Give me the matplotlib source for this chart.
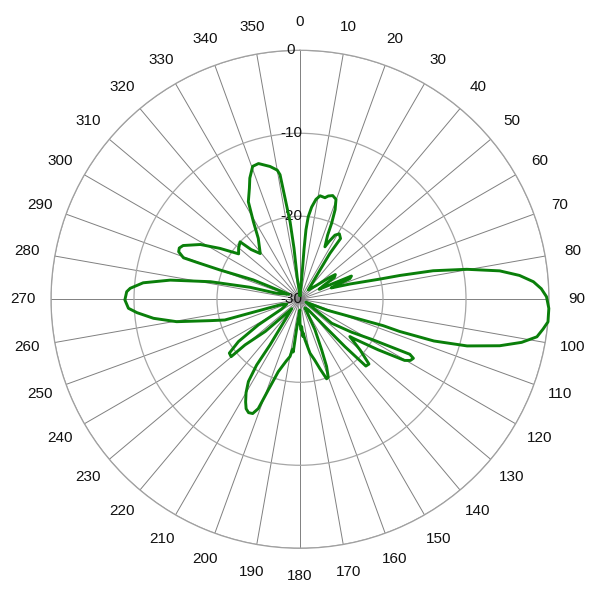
import numpy as np
import matplotlib
matplotlib.use("Agg")
import matplotlib.pyplot as plt

# trace of the pattern in order (angle in degrees, level in dB)
angles_deg = [
    0.0, 4.0, 4.7, 4.6, 4.9, 5.7, 7.2, 9.1, 11.0, 13.8, 15.3, 17.5, 19.8, 21.4,
    22.6, 23.3, 25.4, 26.7, 28.6, 31.0, 33.7, 33.5, 33.1, 34.3, 41.7,
    50.0, 53.5, 55.0, 57.5, 60.0, 62.5, 64.5, 65.7, 67.5, 68.5, 70.0,
    73.0, 75.8, 76.6, 77.9, 79.8, 81.9, 83.8, 85.7, 87.5, 89.4, 92.1, 95.2,
    97.0, 99.0, 101.0, 103.1, 105.6, 107.3, 107.9, 107.6, 109.0, 112.0, 116.0,
    127.1, 122.5, 119.2, 117.6, 116.6, 117.5, 119.0, 120.3, 122.9, 126.2,
    126.8, 130.2, 133.2, 135.4, 136.5, 137.6, 142.0, 150.0,
    153.9, 156.8, 158.4, 160.1, 161.5, 164.0, 166.5, 169.5, 173.0, 174.5,
    175.5, 176.5, 178.0, 180.0, 181.0,
    186.5, 187.3, 188.6, 189.9, 192.5, 196.7, 199.3, 200.9, 202.5, 204.4,
    206.2, 207.9, 210.0, 212.1, 213.4, 213.3, 216.0, 221.0,
    227.2, 230.3, 230.2, 232.7, 235.5, 238.4, 242.0, 250.0,
    254.3, 254.5, 254.6, 256.6, 259.7, 262.6, 265.3, 267.0, 269.8, 272.5,
    273.7, 276.0, 278.4, 281.1, 283.5, 284.4, 294.0,
    292.5, 290.1, 289.7, 289.6, 291.4, 293.0, 294.7, 298.8, 302.5, 305.2,
    306.5, 309.6, 313.8, 315.5, 319.0,
    325.6, 329.0, 332.1, 335.5, 337.5, 340.4, 343.0, 347.3, 350.0, 350.9,
    351.6, 352.7, 353.3, 352.7, 360.0,
]
gain_db = [
    -29.5, -28.9, -26.1, -24.0, -21.6, -20.0, -18.8, -17.8, -17.3, -17.4, -17.1, -16.9, -17.2, -18.4,
    -20.1, -21.6, -23.0, -22.2, -21.2, -20.8, -21.2, -22.2, -23.4, -25.7, -28.5,
    -27.4, -25.6, -24.8, -25.1, -26.8, -27.4, -25.6, -23.2, -23.5, -25.0, -26.0,
    -23.7, -20.1, -17.6, -13.6, -9.6, -5.7, -3.4, -1.8, -0.9, -0.3, 0.0, 0.0,
    -0.5, -1.1, -2.8, -5.3, -9.1, -13.1, -17.4, -19.5, -23.6, -26.5, -29.2,
    -25.2, -22.6, -20.1, -17.6, -15.2, -14.6, -14.8, -15.4, -18.8, -22.0,
    -22.5, -20.5, -18.6, -18.7, -22.1, -25.5, -28.4, -28.8,
    -25.9, -23.4, -21.3, -20.0, -19.9, -21.3, -22.5, -23.4, -25.1, -25.9,
    -25.5, -26.7, -26.3, -27.1, -28.7,
    -26.5, -23.6, -23.9, -23.0, -22.4, -20.9, -18.4, -15.9, -15.1, -15.0,
    -15.3, -16.0, -17.0, -18.3, -20.5, -23.4, -26.9, -28.5,
    -24.3, -21.4, -19.2, -19.3, -21.0, -24.1, -27.5, -28.3,
    -27.6, -22.9, -20.6, -18.9, -14.9, -12.2, -10.3, -9.3, -8.9, -9.1,
    -9.5, -11.0, -14.2, -19.0, -23.8, -27.1, -28.5,
    -23.9, -19.7, -16.8, -15.1, -14.3, -14.2, -14.5, -16.3, -18.6, -20.2,
    -20.8, -20.4, -20.0, -21.6, -22.7,
    -21.1, -19.1, -16.7, -15.3, -14.2, -13.0, -12.9, -13.6, -14.2, -14.8,
    -17.7, -20.6, -23.8, -27.4, -29.5,
]

angle_ticks = list(range(0, 360, 10))
ring_levels = [-30, -20, -10, 0]

plt.rcParams['font.family'] = ['Liberation Sans', 'DejaVu Sans']

fig = plt.figure(figsize=(6, 6), dpi=100)
ax = fig.add_axes([0.085, 0.0862, 0.83, 0.83], projection='polar')
ax.set_theta_zero_location('N')
ax.set_theta_direction(-1)
ax.set_ylim(-30, 0)

ax.set_xticks(np.deg2rad(angle_ticks))
ax.set_xticklabels([])
ax.set_yticks(ring_levels)
ax.set_yticklabels([])
ax.tick_params(length=0)
ax.xaxis.grid(True, color='#808080', linewidth=0.7)
ax.yaxis.grid(True, color='#a6a6a6', linewidth=0.9)
ax.spines['polar'].set_color('#a0a0a0')
ax.spines['polar'].set_linewidth(0.9)

# angle labels outside the outer ring
for a in angle_ticks:
    ax.text(np.deg2rad(a), 3.35, str(a), ha='center', va='center', fontsize=11, color='#111111')

# level labels along the 0 spoke
for v in ring_levels:
    ax.annotate(str(v), xy=(0, v), xytext=(-9, 0), textcoords='offset pixels',
                ha='center', va='center', fontsize=11, color='#111111', zorder=3)

ax.plot(np.deg2rad(angles_deg), gain_db, color='#0a7f0a', linewidth=2.1,
        solid_joinstyle='round', clip_on=False, zorder=5)

fig.savefig('out.png', dpi=100)
